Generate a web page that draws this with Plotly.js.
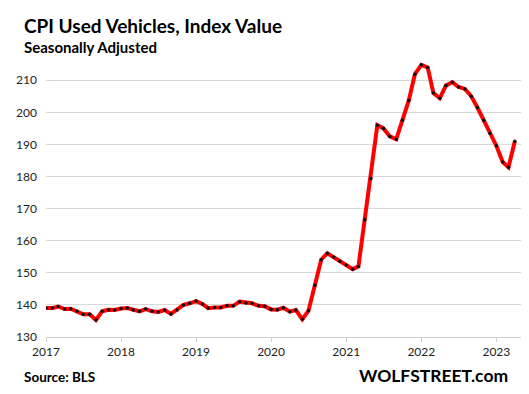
<!DOCTYPE html>
<html>
<head>
<meta charset="utf-8">
<script src="https://cdn.plot.ly/plotly-3.0.1.min.js"></script>
<style>
html,body{margin:0;padding:0;background:#fff;}
#chart{width:529px;height:394px;}
</style>
</head>
<body>
<div id="chart"></div>
<script>
// Monthly CPI Used Vehicles index (seasonally adjusted), Jan 2017 - Apr 2023
const startYear = 2017;
const values2017 = [139.0, 139.0, 139.5, 138.7, 138.8, 138.0, 137.1, 137.1, 135.3, 138.0, 138.5, 138.4];
const values2018 = [138.9, 139.0, 138.4, 138.0, 138.7, 138.0, 137.8, 138.4, 137.2, 138.4, 140.0, 140.5];
const values2019 = [141.2, 140.3, 139.0, 139.2, 139.2, 139.7, 139.7, 141.0, 140.6, 140.5, 139.7, 139.6];
const values2020 = [138.6, 138.5, 139.1, 137.9, 138.4, 135.5, 138.2, 146.1, 154.1, 156.1, 154.9, 153.6];
const values2021 = [152.4, 151.1, 152.0, 166.5, 179.4, 196.0, 195.0, 192.5, 191.6, 197.5, 203.7, 211.9];
const values2022 = [214.8, 214.0, 206.0, 204.4, 208.4, 209.4, 207.9, 207.3, 205.0, 201.5, 197.5, 193.5];
const values2023 = [189.6, 184.5, 182.9, 191.0];
const yTicks = [130, 140, 150, 160, 170, 180, 190, 200, 210];
const xTickYears = ['2017', '2018', '2019', '2020', '2021', '2022', '2023'];

const values = [].concat(values2017, values2018, values2019, values2020, values2021, values2022, values2023);
const dates = values.map((v, i) => {
  const y = startYear + Math.floor(i / 12);
  const m = (i % 12) + 1;
  return y + '-' + String(m).padStart(2, '0') + '-01';
});

const FONT = 'Lato, "Open Sans", sans-serif';

const trace = {
  x: dates,
  y: values,
  type: 'scatter',
  mode: 'lines+markers',
  line: {color: '#ff0000', width: 4},
  marker: {color: '#111111', size: 3.5},
  hoverinfo: 'x+y'
};

const layout = {
  width: 529,
  height: 394,
  margin: {l: 46, r: 8, t: 60.7, b: 56.7, pad: 0},
  paper_bgcolor: '#ffffff',
  plot_bgcolor: '#ffffff',
  showlegend: false,
  font: {family: FONT, color: '#222222', size: 12},
  xaxis: {
    type: 'date',
    range: ['2017-01-01', '2023-05-01'],
    tickvals: xTickYears.map(y => y + '-01-01'),
    ticktext: xTickYears,
    showgrid: false,
    zeroline: false,
    showline: true,
    linecolor: '#d0d0d0',
    linewidth: 1,
    ticks: 'outside',
    ticklen: 4,
    tickcolor: '#d0d0d0',
    tickfont: {family: FONT, size: 12, color: '#222222'},
    fixedrange: true
  },
  yaxis: {
    range: [130, 216],
    tickvals: yTicks,
    ticktext: yTicks.map(String),
    showgrid: true,
    gridcolor: '#d9d9d9',
    gridwidth: 1,
    zeroline: false,
    showline: false,
    ticks: '',
    ticklabelstandoff: 8,
    tickfont: {family: FONT, size: 12, color: '#222222'},
    fixedrange: true
  },
  annotations: [
    {
      text: '<b>CPI Used Vehicles, Index Value</b>',
      xref: 'paper', yref: 'paper',
      x: (22 - 46) / 475, y: (337.3 - 25) / 276.6,
      xanchor: 'left', yanchor: 'middle',
      showarrow: false,
      font: {family: FONT, size: 19, color: '#000000'}
    },
    {
      text: '<b>Seasonally Adjusted</b>',
      xref: 'paper', yref: 'paper',
      x: (22 - 46) / 475, y: (337.3 - 47) / 276.6,
      xanchor: 'left', yanchor: 'middle',
      showarrow: false,
      font: {family: FONT, size: 15, color: '#000000'}
    },
    {
      text: '<b>Source: BLS</b>',
      xref: 'paper', yref: 'paper',
      x: (22 - 46) / 475, y: (337.3 - 377) / 276.6,
      xanchor: 'left', yanchor: 'middle',
      showarrow: false,
      font: {family: FONT, size: 13.5, color: '#000000'}
    },
    {
      text: '<b>WOLFSTREET.com</b>',
      xref: 'paper', yref: 'paper',
      x: (510 - 46) / 475, y: (337.3 - 376) / 276.6,
      xanchor: 'right', yanchor: 'middle',
      showarrow: false,
      font: {family: FONT, size: 17.5, color: '#000000'}
    }
  ]
};

Plotly.newPlot('chart', [trace], layout, {displayModeBar: false, staticPlot: true});
</script>
</body>
</html>
